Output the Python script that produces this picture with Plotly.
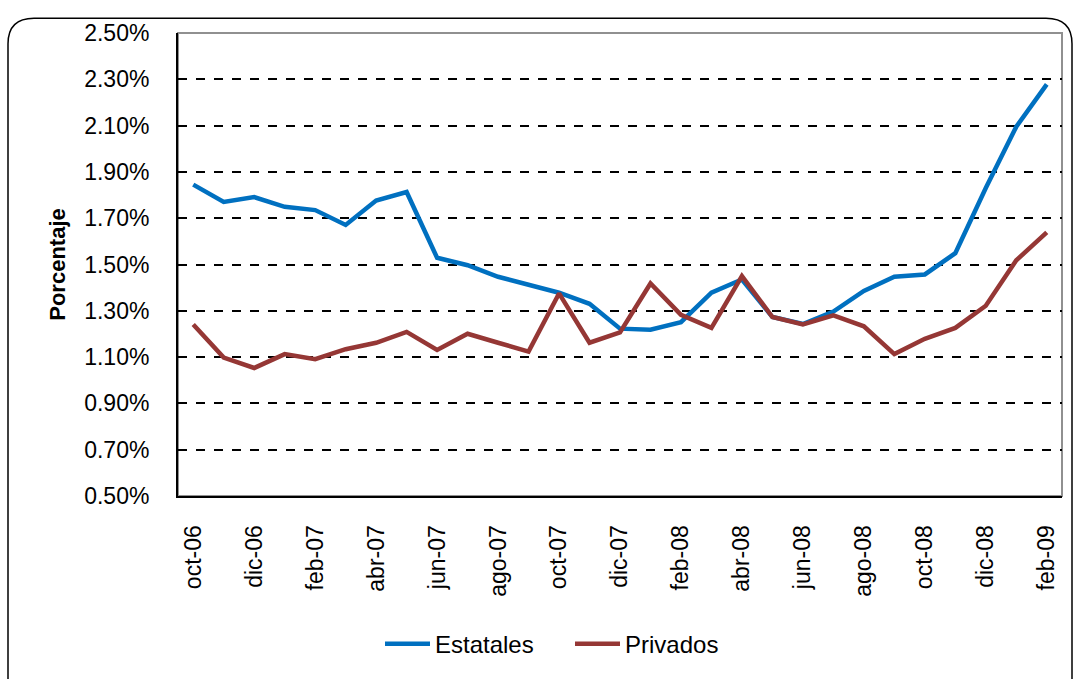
import plotly.graph_objects as go

months = ["oct-06", "nov-06", "dic-06", "ene-07", "feb-07", "mar-07", "abr-07", "may-07",
          "jun-07", "jul-07", "ago-07", "sep-07", "oct-07", "nov-07", "dic-07", "ene-08",
          "feb-08", "mar-08", "abr-08", "may-08", "jun-08", "jul-08", "ago-08", "sep-08",
          "oct-08", "nov-08", "dic-08", "ene-09", "feb-09"]

estatales = [1.845, 1.770, 1.791, 1.749, 1.735, 1.671, 1.776, 1.813, 1.529, 1.497,
             1.447, 1.411, 1.378, 1.330, 1.223, 1.218, 1.251, 1.378, 1.435, 1.273,
             1.243, 1.297, 1.386, 1.447, 1.457, 1.549, 1.830, 2.095, 2.278]

privados = [1.241, 1.098, 1.053, 1.113, 1.091, 1.134, 1.162, 1.209, 1.131, 1.201,
            1.162, 1.124, 1.375, 1.162, 1.207, 1.418, 1.283, 1.226, 1.450, 1.273,
            1.241, 1.280, 1.233, 1.113, 1.179, 1.226, 1.322, 1.518, 1.639]

y_ticks = [0.5, 0.7, 0.9, 1.1, 1.3, 1.5, 1.7, 1.9, 2.1, 2.3, 2.5]
x_ticks = months[::2]

FONT = "Liberation Sans, Arial, sans-serif"
FS = 23

fig = go.Figure()
fig.add_trace(go.Scatter(x=months, y=estatales, name="Estatales", mode="lines",
                         line=dict(color="#0070C0", width=4.5)))
fig.add_trace(go.Scatter(x=months, y=privados, name="Privados", mode="lines",
                         line=dict(color="#953735", width=4.5)))

W, H = 1076, 679
L, R, T, B = 178, 1062, 33, 502


def px(x):
    return (x - L) / (R - L)


def py(y):
    return (B - y) / (B - T)


# rounded outer border, open at the bottom (clipped in the reference)
x0, x1, y0, y1, r = 8, 1072, 18, 720, 26
path = (f"M {px(x0)},{py(y1)} L {px(x0)},{py(y0 + r)} Q {px(x0)},{py(y0)} {px(x0 + r)},{py(y0)} "
        f"L {px(x1 - r)},{py(y0)} Q {px(x1)},{py(y0)} {px(x1)},{py(y0 + r)} "
        f"L {px(x1)},{py(y1)}")

fig.update_layout(
    width=W, height=H,
    margin=dict(l=L, r=W - R, t=T, b=H - B),
    paper_bgcolor="white", plot_bgcolor="white",
    font=dict(family=FONT, size=FS, color="black"),
    showlegend=True,
    legend=dict(orientation="h", x=px(570), y=py(652), xanchor="center", yanchor="middle",
                font=dict(size=24), itemwidth=45, entrywidth=130, tracegroupgap=0),
    shapes=[
        dict(type="path", path=path, xref="paper", yref="paper",
             line=dict(color="black", width=1.5), layer="below"),
        dict(type="rect", xref="paper", yref="paper", x0=0, x1=1, y0=0, y1=1,
             line=dict(color="#909090", width=2), layer="below"),
    ],
    xaxis=dict(
        type="category", categoryorder="array", categoryarray=months,
        range=[-0.5, len(months) - 0.5],
        tickmode="array", tickvals=x_ticks, ticktext=x_ticks,
        tickangle=-90, showgrid=False, showline=True, linecolor="black", linewidth=2,
        ticks="", ticklen=0, ticklabelstandoff=18, tickfont=dict(size=FS), automargin=False,
    ),
    yaxis=dict(
        range=[0.5, 2.5], tickmode="array", tickvals=y_ticks,
        ticktext=[f"{v:.2f}%" for v in y_ticks],
        showgrid=True, gridcolor="black", griddash="dash", gridwidth=1.5,
        showline=True, linecolor="black", linewidth=2, zeroline=False,
        ticks="", ticklabelstandoff=22, tickfont=dict(size=FS), automargin=False,
        title=dict(text="<b>Porcentaje</b>", font=dict(size=FS - 1), standoff=12),
    ),
)

fig.write_html("out.html")
